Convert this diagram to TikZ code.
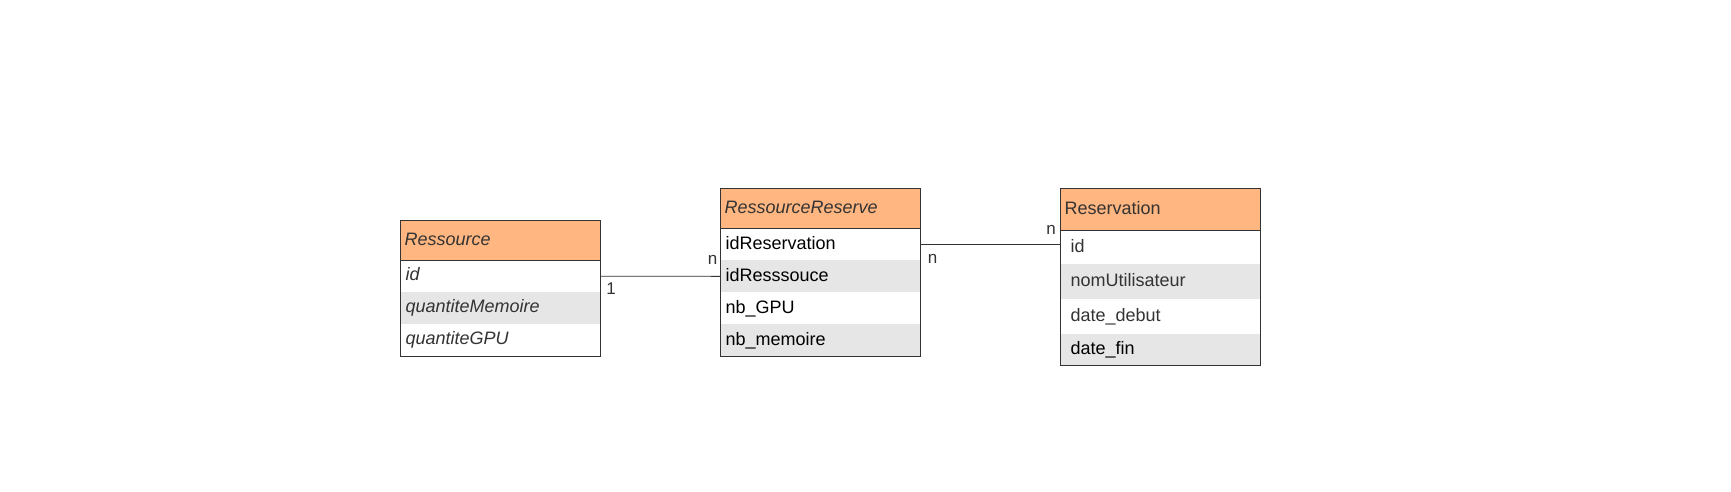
\documentclass[tikz,border=0pt]{standalone}
\usepackage{fontspec}
\setmainfont{Liberation Sans}
\definecolor{hdr}{HTML}{FFB680}
\definecolor{rowg}{HTML}{E6E6E6}
\definecolor{bord}{HTML}{333333}
\definecolor{txt}{HTML}{333333}
\begin{document}
\begin{tikzpicture}[x=1pt,y=-1pt,
  base/.style={anchor=north west, minimum width=200pt, inner ysep=0pt, outer sep=0pt,
    font=\fontsize{18}{20}\selectfont, align=left, text height=13pt, text depth=3.5pt},
  hdrbox/.style={base, fill=hdr, inner xsep=4pt, text width=192pt, text=txt},
  rowbox/.style={base, fill=white, inner xsep=5pt, text width=190pt},
  rowgray/.style={rowbox, fill=rowg},
  frame/.style={draw=bord, line width=1pt},
  conn/.style={draw=bord, line width=0.9pt},
  lbl/.style={font=\fontsize{17}{19}\selectfont, text=txt, inner sep=0pt}
]
\useasboundingbox (0,0) rectangle (1731,491);

% ---- Ressource
\node[hdrbox, minimum height=40pt] (rh) at (400.5,220.7) {\itshape Ressource};
\node[rowbox, minimum height=31pt, text=txt] (r1) at (400.5,260.7) {\itshape id};
\node[rowgray, minimum height=32pt, text=txt] (r2) at (400.5,291.7) {\itshape quantiteMemoire};
\node[rowbox, minimum height=32.3pt, text=txt] (r3) at (400.5,323.7) {\itshape quantiteGPU};
\draw[frame] (rh.north west) rectangle (r3.south east);
\draw[frame] (rh.south west) -- (rh.south east);

% ---- RessourceReserve
\node[hdrbox, minimum height=40pt] (qh) at (720.5,188.3) {\itshape RessourceReserve};
\node[rowbox, minimum height=32pt, text=black] (q1) at (720.5,228.3) {idReservation};
\node[rowgray, minimum height=32pt, text=black] (q2) at (720.5,260.3) {idResssouce};
\node[rowbox, minimum height=32pt, text=black] (q3) at (720.5,292.3) {nb\_GPU};
\node[rowgray, minimum height=32pt, text=black] (q4) at (720.5,324.3) {nb\_memoire};
\draw[frame] (qh.north west) rectangle (q4.south east);
\draw[frame] (qh.south west) -- (qh.south east);

% ---- Reservation
\node[hdrbox, minimum height=42.4pt] (sh) at (1060.5,188.3) {Reservation};
\node[rowbox, minimum height=33.3pt, text=txt, inner xsep=10pt, text width=180pt] (s1) at (1060.5,230.7) {id};
\node[rowgray, minimum height=35pt, text=txt, inner xsep=10pt, text width=180pt] (s2) at (1060.5,264) {nomUtilisateur};
\node[rowbox, minimum height=35pt, text=txt, inner xsep=10pt, text width=180pt] (s3) at (1060.5,299) {date\_debut};
\node[rowgray, minimum height=31pt, text=black, inner xsep=10pt, text width=180pt] (s4) at (1060.5,334) {date\_fin};
\draw[frame] (sh.north west) rectangle (s4.south east);
\draw[frame] (sh.south west) -- (sh.south east);

% ---- connectors
\draw[conn] (r1.east) -- (q2.west);
\draw[conn] (q1.east) -- (q1.east -| s1.west);

% ---- multiplicities
\node[lbl] (m1) at (611,288.5) {1};
\node[lbl] (m2) at (712.5,260) {n};
\node[lbl] (m3) at (932.5,259) {n};
\node[lbl] (m4) at (1051,230) {n};
\end{tikzpicture}
\end{document}
